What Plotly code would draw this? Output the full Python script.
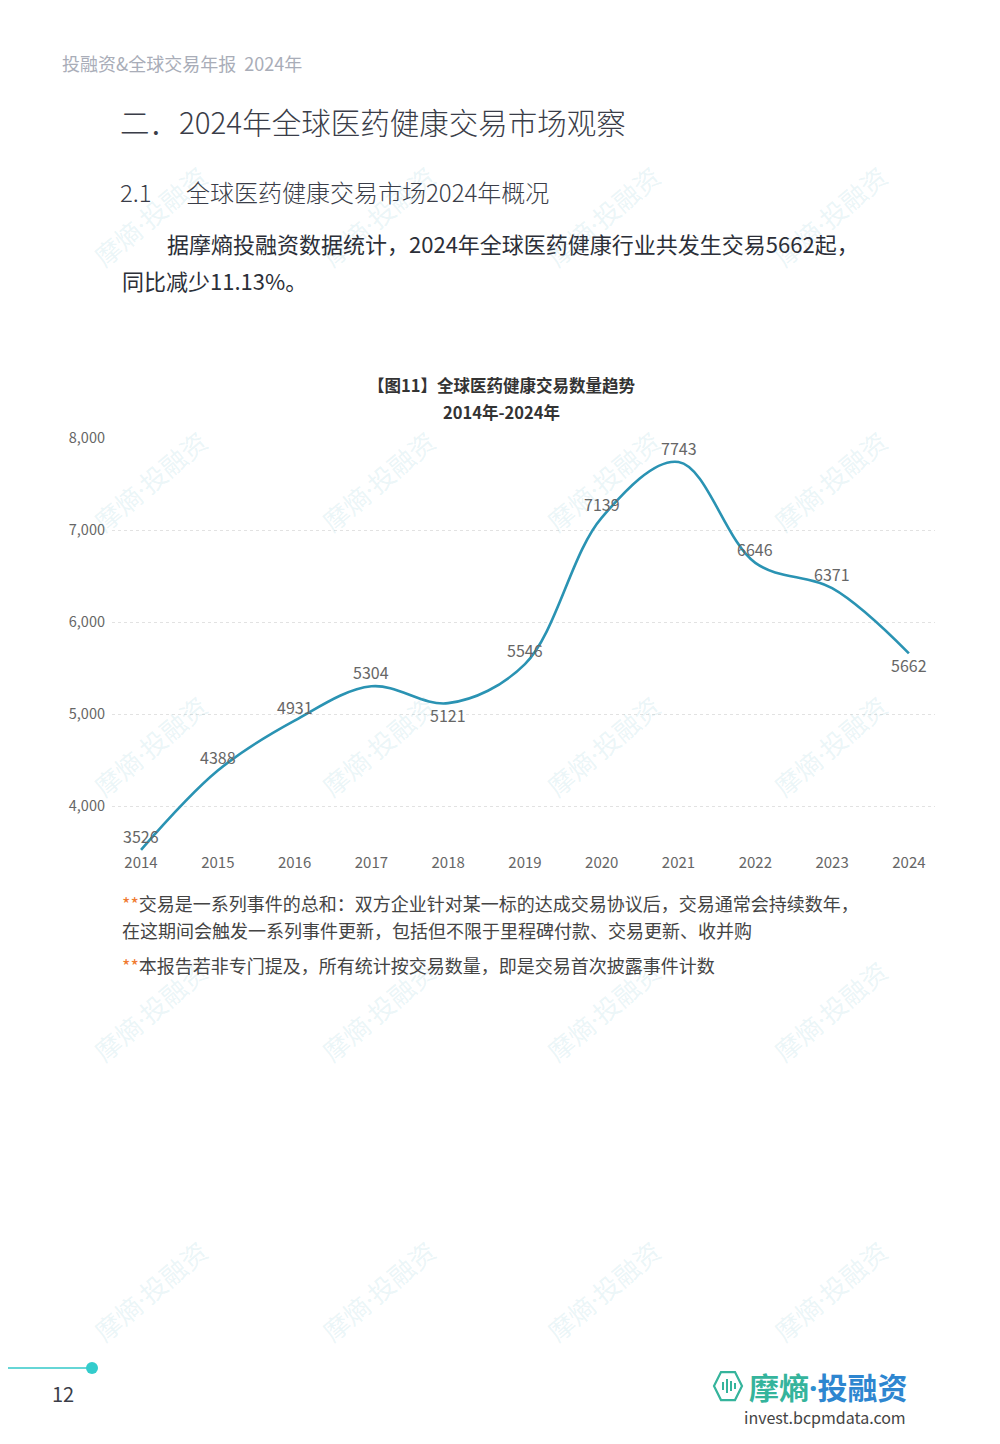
import plotly.graph_objects as go

years = [2014, 2015, 2016, 2017, 2018, 2019, 2020, 2021, 2022, 2023, 2024]
deals = [3526, 4388, 4931, 5304, 5121, 5546, 7139, 7743, 6646, 6371, 5662]
label_below = [False, False, False, False, True, False, False, False, False, False, True]
y_ticks = [4000, 5000, 6000, 7000, 8000]

W, H = 1000, 1444
def px(x): return (x - 8) / W
def py(y): return 1 - ((y - 18.5) / 0.992) / H

FONT = "Noto Sans CJK SC"
fig = go.Figure()
xi = list(range(len(years)))
fig.add_trace(go.Scatter(
    x=xi, y=deals, mode="lines",
    line=dict(color="#2a93b3", width=2.6, shape="spline", smoothing=1.0),
    hoverinfo="skip", showlegend=False))

annotations = []
for i, (v, below) in enumerate(zip(deals, label_below)):
    annotations.append(dict(x=i, y=v, xref="x", yref="y", text=str(v), showarrow=False,
                            yshift=-12 if below else 14,
                            font=dict(family=FONT, size=16, color="#666")))

def txt(x, y, s, size, color="#333", anchor="left", weight=None, fam=FONT):
    f = dict(family=fam, size=size, color=color)
    if weight:
        f["weight"] = weight
    annotations.append(dict(x=px(x), y=py(y), xref="paper", yref="paper", text=s,
                            showarrow=False, xanchor=anchor, yanchor="middle", font=f))

# watermarks
for wy in [215, 480, 745, 1010, 1290]:
    for wx in [150, 378, 603, 830]:
        annotations.append(dict(x=px(wx), y=py(wy), xref="paper", yref="paper",
                                xanchor="center", yanchor="middle",
                                text="摩熵<span style='font-family:Noto Sans'>·</span>投融资",
                                showarrow=False, textangle=-40,
                                font=dict(family=FONT, size=26, color="rgba(110,185,200,0.15)")))

txt(60, 62, "投融资&全球交易年报  2024年", 18, "#a9adb8")
txt(118, 120, "二．2024年全球医药健康交易市场观察", 29.5, "#3a3d48", weight=300)
txt(118, 190, "2.1", 24, "#3a3d48", weight=300)
txt(184, 190, "全球医药健康交易市场2024年概况", 24, "#3a3d48", weight=300)
txt(165, 242, "据摩熵投融资数据统计，2024年全球医药健康行业共发生交易5662起，", 22, "#2c2f38")
txt(120, 279, "同比减少11.13%。", 22, "#2c2f38")
txt(501, 384, "【图11】全球医药健康交易数量趋势", 16.5, "#333", anchor="center", weight="bold")
txt(501, 411, "2014年-2024年", 16.5, "#333", anchor="center", weight="bold")

star = "<span style='color:#f07a30'>**</span>"
txt(120, 902, star + "交易是一系列事件的总和：双方企业针对某一标的达成交易协议后，交易通常会持续数年，", 18, "#444")
txt(120, 929, "在这期间会触发一系列事件更新，包括但不限于里程碑付款、交易更新、收并购", 18, "#444")
txt(120, 964, star + "本报告若非专门提及，所有统计按交易数量，即是交易首次披露事件计数", 18, "#444")

txt(63, 1392, "12", 20, "#3a3d48", anchor="center")
txt(747, 1385, "<span style='color:#35b49c'>摩熵</span><span style='color:#2e8fd0;font-family:Noto Sans'>·</span><span style='color:#2e86d0'>投融资</span>",
    30, "#333", weight="bold")
txt(908, 1416, "invest.bcpmdata.com", 16, "#444", anchor="right")

# logo hexagon icon
hx = [(721, 1371), (735, 1371), (742, 1385), (735, 1399), (721, 1399), (714, 1385)]
path = "M " + " L ".join(f"{px(a)},{py(b)}" for a, b in hx) + " Z"
shapes = [
    dict(type="path", xref="paper", yref="paper", path=path,
         line=dict(color="#35b49c", width=2.2), fillcolor="rgba(0,0,0,0)"),
    dict(type="line", xref="paper", yref="paper", x0=0, x1=px(92), y0=py(1367), y1=py(1367),
         line=dict(color="#33c8c8", width=1.5)),
    dict(type="circle", xref="paper", yref="paper", x0=px(86), x1=px(98), y0=py(1373), y1=py(1361),
         fillcolor="#33cccc", line=dict(color="#33cccc", width=0)),
]
for bx, h in [(723, 4), (727, 7), (731, 5), (735, 3)]:
    shapes.append(dict(type="line", xref="paper", yref="paper", x0=px(bx), x1=px(bx),
                       y0=py(1385 - h), y1=py(1385 + h), line=dict(color="#35b49c", width=2)))

fig.update_layout(
    width=W, height=H, margin=dict(l=0, r=0, t=0, b=0),
    paper_bgcolor="white", plot_bgcolor="white",
    annotations=annotations, shapes=shapes,
    xaxis=dict(domain=[px(112), px(935)], range=[-0.378, 10.34], tickmode="array",
               tickvals=xi, ticktext=[str(y) for y in years], showgrid=False, zeroline=False,
               showline=False, ticks="", tickfont=dict(family=FONT, size=15, color="#666")),
    yaxis=dict(domain=[py(851), py(437)], range=[3500, 8000], tickmode="array",
               tickvals=y_ticks, tickformat=",", showgrid=True, gridcolor="#e2e2e2",
               griddash="dot", gridwidth=1, zeroline=False, showline=False, ticks="",
               tickfont=dict(family=FONT, size=14.5, color="#666"), ticklabelstandoff=6),
)
fig.write_html("out.html")
